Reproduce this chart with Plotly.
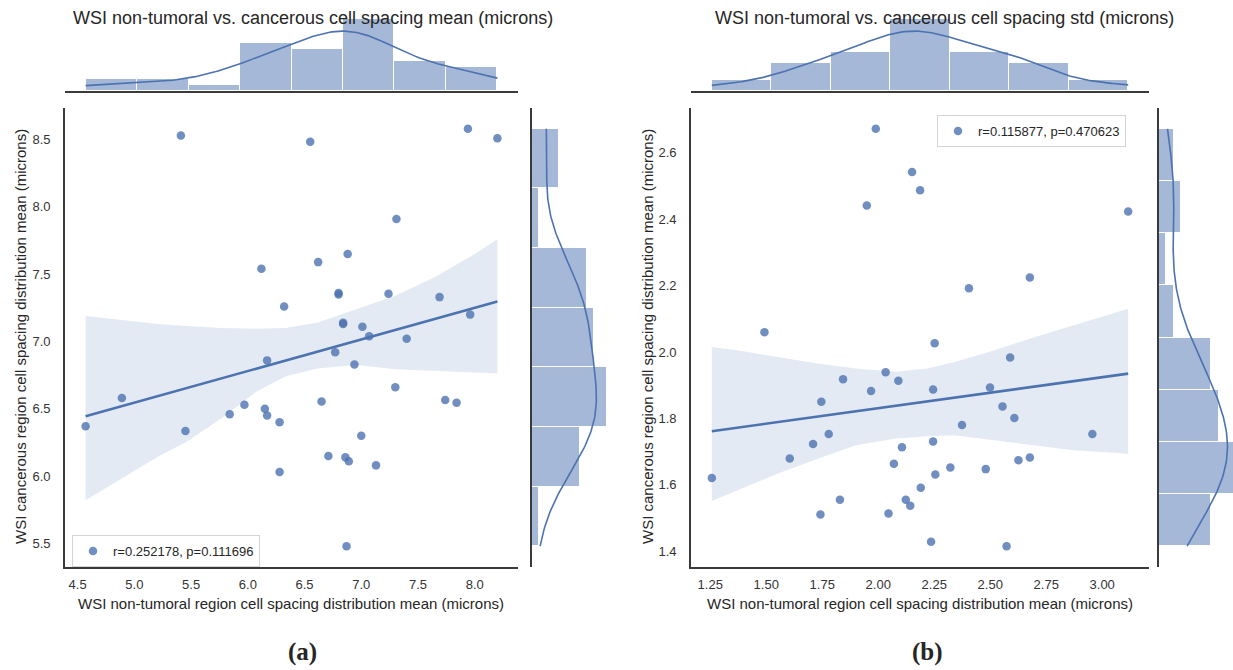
import numpy as np
import plotly.graph_objects as go

# ---------------- data ----------------
left_x = [4.57, 4.89, 5.41, 5.45, 5.84, 5.97, 6.12, 6.15, 6.17, 6.17, 6.28, 6.28, 6.32, 6.55,
          6.62, 6.65, 6.71, 6.77, 6.80, 6.80, 6.84, 6.84, 6.86, 6.87, 6.88, 6.89, 6.94, 7.00,
          7.01, 7.07, 7.13, 7.24, 7.30, 7.31, 7.40, 7.69, 7.74, 7.84, 7.94, 7.96, 8.20]
left_y = [6.37, 6.58, 8.53, 6.335, 6.46, 6.53, 7.54, 6.50, 6.45, 6.86, 6.40, 6.03, 7.26, 8.485,
          7.59, 6.555, 6.15, 6.92, 7.36, 7.35, 7.14, 7.13, 6.14, 5.48, 7.65, 6.11, 6.83, 6.30,
          7.11, 7.04, 6.08, 7.355, 6.66, 7.91, 7.02, 7.33, 6.565, 6.545, 8.58, 7.20, 8.51]

right_x = [1.989, 2.151, 2.187, 1.949, 3.116, 2.405, 2.677, 1.492, 2.252, 2.589, 2.033, 1.843,
           2.090, 1.968, 2.245, 2.499, 1.746, 2.555, 2.608, 2.374, 1.779, 2.956, 1.709, 2.245,
           2.106, 1.605, 2.677, 2.626, 2.070, 2.322, 2.480, 2.255, 1.257, 2.190, 1.829, 2.123,
           2.143, 1.742, 2.046, 2.236, 2.573]
right_y = [2.672, 2.542, 2.487, 2.441, 2.423, 2.192, 2.224, 2.059, 2.026, 1.983, 1.939, 1.918,
           1.913, 1.882, 1.887, 1.893, 1.850, 1.836, 1.801, 1.780, 1.753, 1.753, 1.723, 1.730,
           1.713, 1.679, 1.682, 1.674, 1.663, 1.652, 1.647, 1.631, 1.620, 1.591, 1.555, 1.555,
           1.537, 1.510, 1.513, 1.428, 1.415]

# confidence bands of the regression
left_band_x = [4.57, 4.87, 5.21, 5.46, 5.77, 6.08, 6.33, 6.61, 6.96, 7.30, 7.65, 8.00, 8.20]
left_band_hi = [7.19, 7.16, 7.13, 7.115, 7.10, 7.095, 7.10, 7.14, 7.24, 7.34, 7.48, 7.65, 7.76]
left_band_lo = [5.82, 5.97, 6.145, 6.255, 6.43, 6.63, 6.74, 6.80, 6.825, 6.795, 6.78, 6.77, 6.765]

right_band_x = [1.257, 1.37, 1.55, 1.73, 1.90, 2.08, 2.22, 2.34, 2.52, 2.70, 2.87, 3.116]
right_band_hi = [2.015, 2.005, 1.985, 1.965, 1.95, 1.94, 1.95, 1.97, 2.005, 2.045, 2.08, 2.13]
right_band_lo = [1.551, 1.583, 1.633, 1.678, 1.719, 1.739, 1.746, 1.749, 1.734, 1.719, 1.704, 1.693]

left_bins = {"x": 8, "y": 7}
right_bins = {"x": 7, "y": 8}

left_legend = "r=0.252178, p=0.111696"
right_legend = "r=0.115877, p=0.470623"

left_title = "WSI non-tumoral vs. cancerous cell spacing mean (microns)"
right_title = "WSI non-tumoral vs. cancerous cell spacing std (microns)"
x_label = "WSI non-tumoral region cell spacing distribution mean (microns)"
y_label = "WSI cancerous region cell spacing distribution mean (microns)"
panel_labels = ["(a)", "(b)"]

left_xticks = [4.5, 5.0, 5.5, 6.0, 6.5, 7.0, 7.5, 8.0]
left_yticks = [5.5, 6.0, 6.5, 7.0, 7.5, 8.0, 8.5]
right_xticks = [1.25, 1.50, 1.75, 2.00, 2.25, 2.50, 2.75, 3.00]
right_yticks = [1.4, 1.6, 1.8, 2.0, 2.2, 2.4, 2.6]

# ---------------- styling ----------------
W, H = 1233, 670
BLUE = "#4C72B0"
BAR = "rgba(76,114,176,0.5)"
BAND = "rgba(76,114,176,0.15)"
SPINE = "#3a3a3a"
TXT = "#262626"
FONT = "Liberation Sans, Arial, sans-serif"


def xd(a, b):
    return [a / W, b / W]


def yd(top, bottom):
    return [1 - bottom / H, 1 - top / H]


def pad_range(v):
    v = np.asarray(v, float)
    p = 0.05 * (v.max() - v.min())
    return [v.min() - p, v.max() + p]


def kde_counts(v, nbins, npts=200):
    v = np.asarray(v, float)
    n = len(v)
    bw = v.std(ddof=1) * n ** (-1 / 5)
    grid = np.linspace(v.min(), v.max(), npts)
    dens = np.exp(-0.5 * ((grid[:, None] - v[None, :]) / bw) ** 2).sum(1) / (n * bw * np.sqrt(2 * np.pi))
    binw = (v.max() - v.min()) / nbins
    return grid, dens * n * binw


fig = go.Figure()


def panel(px, py, bins, band_x, band_lo, band_hi, leg_name, leg_id, ax):
    xa, ya = ax["sx"], ax["sy"]
    # CI band
    fig.add_trace(go.Scatter(x=band_x, y=band_lo, mode="lines", line=dict(width=0, color=BAND),
                             showlegend=False, hoverinfo="skip", xaxis=xa, yaxis=ya))
    fig.add_trace(go.Scatter(x=band_x, y=band_hi, mode="lines", line=dict(width=0, color=BAND),
                             fill="tonexty", fillcolor=BAND, showlegend=False, hoverinfo="skip",
                             xaxis=xa, yaxis=ya))
    # scatter
    fig.add_trace(go.Scatter(x=px, y=py, mode="markers", name=leg_name, legend=leg_id,
                             marker=dict(color=BLUE, size=8.5, opacity=0.8, line=dict(width=0)),
                             xaxis=xa, yaxis=ya))
    # regression line
    slope, inter = np.polyfit(px, py, 1)
    lx = np.array([min(px), max(px)])
    fig.add_trace(go.Scatter(x=lx, y=slope * lx + inter, mode="lines", showlegend=False,
                             line=dict(color=BLUE, width=2.6), xaxis=xa, yaxis=ya))
    # top marginal histogram
    cnt, edges = np.histogram(px, bins=bins["x"])
    fig.add_trace(go.Bar(x=(edges[:-1] + edges[1:]) / 2, y=cnt, width=np.diff(edges),
                         marker=dict(color=BAR, line=dict(color="white", width=1)),
                         showlegend=False, xaxis=ax["tx"], yaxis=ax["ty"]))
    g, k = kde_counts(px, bins["x"])
    fig.add_trace(go.Scatter(x=g, y=k, mode="lines", line=dict(color=BLUE, width=1.6),
                             showlegend=False, xaxis=ax["tx"], yaxis=ax["ty"]))
    top_max = max(cnt.max(), k.max())
    # right marginal histogram
    cnt2, edges2 = np.histogram(py, bins=bins["y"])
    fig.add_trace(go.Bar(y=(edges2[:-1] + edges2[1:]) / 2, x=cnt2, width=np.diff(edges2),
                         orientation="h",
                         marker=dict(color=BAR, line=dict(color="white", width=1)),
                         showlegend=False, xaxis=ax["rx"], yaxis=ax["ry"]))
    g2, k2 = kde_counts(py, bins["y"])
    fig.add_trace(go.Scatter(x=k2, y=g2, mode="lines", line=dict(color=BLUE, width=1.6),
                             showlegend=False, xaxis=ax["rx"], yaxis=ax["ry"]))
    right_max = max(cnt2.max(), k2.max())
    return top_max, right_max


L = dict(sx="x", sy="y", tx="x2", ty="y2", rx="x3", ry="y3")
R = dict(sx="x4", sy="y4", tx="x5", ty="y5", rx="x6", ry="y6")
lt, lr = panel(left_x, left_y, left_bins, left_band_x, left_band_lo, left_band_hi,
               left_legend, "legend", L)
rt, rr = panel(right_x, right_y, right_bins, right_band_x, right_band_lo, right_band_hi,
               right_legend, "legend2", R)

tickfont = dict(family=FONT, size=13, color="#333333")
spine = dict(showline=True, linecolor=SPINE, linewidth=1.8, showgrid=False, zeroline=False)
hidden = dict(visible=False, showgrid=False, zeroline=False)

lxr, lyr = pad_range(left_x), pad_range(left_y)
rxr, ryr = pad_range(right_x), pad_range(right_y)

fig.update_layout(
    width=W, height=H, margin=dict(l=0, r=0, t=0, b=0),
    paper_bgcolor="white", plot_bgcolor="white",
    font=dict(family=FONT, color=TXT),
    barmode="overlay", bargap=0,
    # left panel
    xaxis=dict(domain=xd(65, 518), range=lxr, tickvals=left_xticks, tickformat=".1f",
               ticks="outside", ticklen=4, tickcolor="rgba(0,0,0,0)", tickfont=tickfont, **spine),
    yaxis=dict(domain=yd(108, 567), range=lyr, tickvals=left_yticks, tickformat=".1f",
               ticks="outside", ticklen=10, tickcolor="rgba(0,0,0,0)", tickfont=tickfont, **spine),
    xaxis2=dict(domain=xd(65, 518), range=lxr, showticklabels=False, ticks="", anchor="y2", **spine),
    yaxis2=dict(domain=yd(15, 91), range=[0, lt * 1.05], anchor="x2", **hidden),
    xaxis3=dict(domain=xd(532, 611), range=[0, lr * 1.05], anchor="y3", **hidden),
    yaxis3=dict(domain=yd(108, 567), range=lyr, showticklabels=False, ticks="", anchor="x3", **spine),
    # right panel
    xaxis4=dict(domain=xd(691, 1149), range=rxr, tickvals=right_xticks, tickformat=".2f",
                ticks="outside", ticklen=4, tickcolor="rgba(0,0,0,0)", tickfont=tickfont,
                anchor="y4", **spine),
    yaxis4=dict(domain=yd(108, 567), range=ryr, tickvals=right_yticks, tickformat=".1f",
                ticks="outside", ticklen=10, tickcolor="rgba(0,0,0,0)", tickfont=tickfont,
                anchor="x4", **spine),
    xaxis5=dict(domain=xd(691, 1149), range=rxr, showticklabels=False, ticks="", anchor="y5", **spine),
    yaxis5=dict(domain=yd(15, 91), range=[0, rt * 1.05], anchor="x5", **hidden),
    xaxis6=dict(domain=xd(1159, 1233), range=[0, rr * 1.05 * 0.86], anchor="y6", **hidden),
    yaxis6=dict(domain=yd(108, 567), range=ryr, showticklabels=False, ticks="", anchor="x6", **spine),
    legend=dict(x=72 / W, y=1 - 535 / H, xanchor="left", yanchor="top",
                bgcolor="white", bordercolor="#d4d4d4", borderwidth=1,
                font=dict(family=FONT, size=13, color=TXT)),
    legend2=dict(x=937 / W, y=1 - 115 / H, xanchor="left", yanchor="top",
                 bgcolor="white", bordercolor="#d4d4d4", borderwidth=1,
                 font=dict(family=FONT, size=13, color=TXT)),
)


def ann(text, x, y, size, angle=0, family=FONT, bold=False):
    fig.add_annotation(text=f"<b>{text}</b>" if bold else text, x=x / W, y=1 - y / H,
                       xref="paper", yref="paper", showarrow=False, textangle=angle,
                       xanchor="center", yanchor="middle",
                       font=dict(family=family, size=size, color=TXT))


ann(left_title, 313, 18, 18)
ann(right_title, 944, 18, 18)
ann(x_label, 291, 603, 15)
ann(x_label, 920, 603, 15)
ann(y_label, 20, 337, 15, angle=-90)
ann(y_label, 647, 337, 15, angle=-90)
ann(panel_labels[0], 302, 652, 25, family="Liberation Serif, DejaVu Serif, serif", bold=True)
ann(panel_labels[1], 927, 652, 25, family="Liberation Serif, DejaVu Serif, serif", bold=True)

fig.write_html("out.html")
